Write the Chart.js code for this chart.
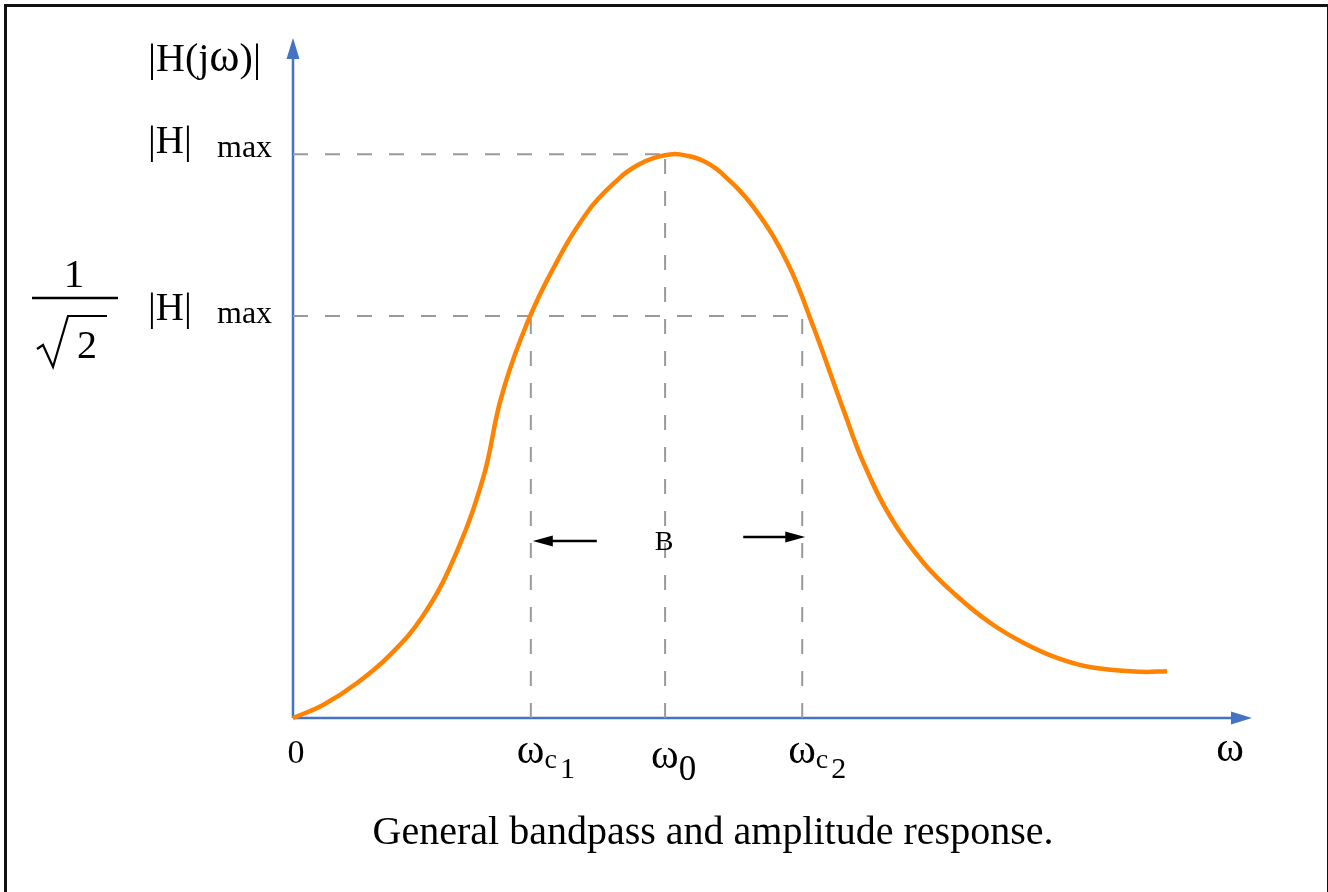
<!DOCTYPE html>
<html>
<head>
<meta charset="utf-8">
<script src="https://cdn.jsdelivr.net/npm/chart.js@4.4.1/dist/chart.umd.min.js"></script>
<style>
    html, body { margin: 0; padding: 0; background: #fff; overflow: hidden; }
    #frame {
        position: absolute; left: 4px; top: 4px; width: 1320px; height: 900px;
        border: 3px solid #111; border-bottom: none;
    }
    #chart { position: absolute; left: 0; top: 0; }
</style>
</head>
<body>
<div id="frame"></div>
<canvas id="chart" width="1328" height="892"></canvas>
<script>
// omega in arbitrary units (0..100), |H| normalised to |H|max = 1
const curveOmega = [0, 3.13, 6.68, 10.13, 13.47, 16.70, 19.83, 21.61, 23.70, 26.51, 30.69, 34.13, 35.86, 37.58, 39.56, 41.13,
    42.80, 44.57, 48.02, 51.57, 54.28, 57.41, 59.50, 62.32, 65.76, 69.31, 72.76, 76.20, 79.75, 83.19, 88.41, 91.13];
const curveGain = [0, 0.023, 0.062, 0.112, 0.179, 0.280, 0.426, 0.562, 0.670, 0.777, 0.897, 0.959, 0.980, 0.993, 1.0, 0.997,
    0.988, 0.968, 0.906, 0.807, 0.693, 0.546, 0.452, 0.356, 0.275, 0.215, 0.168, 0.133, 0.106, 0.090, 0.082, 0.083];

const omegaC1 = 24.8;
const omega0 = 38.8;
const omegaC2 = 53.1;
const hMax = 1.0;
const halfPower = 0.713;
const bandLevel = 0.314;

const xTickLabels = ["0", "ω"];
const caption = "General bandpass and amplitude response.";

const axisBlue = "#4472C4";
const curveOrange = "#FF8200";
const dashGrey = "#9a9a9a";
const serif = "'Liberation Serif', 'Times New Roman', serif";

function dashed(points) {
    return {
        data: points,
        borderColor: dashGrey,
        borderWidth: 2,
        borderDash: [15, 17],
        pointRadius: 0,
        tension: 0,
        clip: false
    };
}

const curveData = curveOmega.map((w, i) => ({ x: w, y: curveGain[i] }));

function arrowHead(ctx, tipX, tipY, dx, dy, len, half) {
    // dx, dy: unit direction the arrow points to
    const bx = tipX - dx * len, by = tipY - dy * len;
    ctx.beginPath();
    ctx.moveTo(tipX, tipY);
    ctx.lineTo(bx - dy * half, by + dx * half);
    ctx.lineTo(bx + dy * half, by - dx * half);
    ctx.closePath();
    ctx.fill();
}

function text(ctx, str, x, y, size, align) {
    ctx.font = size + "px " + serif;
    ctx.textAlign = align || "left";
    ctx.fillText(str, x, y);
    return ctx.measureText(str).width;
}

const axesPlugin = {
    id: "axes",
    beforeDatasetsDraw(chart) {
        const ctx = chart.ctx;
        const a = chart.chartArea;
        const x0 = chart.scales.x.getPixelForValue(0);
        const y0 = chart.scales.y.getPixelForValue(0);
        ctx.save();
        ctx.strokeStyle = axisBlue;
        ctx.fillStyle = axisBlue;
        ctx.lineWidth = 2.5;
        ctx.beginPath();
        ctx.moveTo(x0, y0);
        ctx.lineTo(x0, a.top + 12);
        ctx.moveTo(x0, y0);
        ctx.lineTo(a.right - 12, y0);
        ctx.stroke();
        arrowHead(ctx, x0, a.top, 0, -1, 21, 6.5);
        arrowHead(ctx, a.right, y0, 1, 0, 21, 6.5);
        ctx.restore();
    },
    afterDatasetsDraw(chart) {
        const ctx = chart.ctx;
        const xs = chart.scales.x, ys = chart.scales.y;
        const a = chart.chartArea;
        const y0 = ys.getPixelForValue(0);
        ctx.save();
        ctx.fillStyle = "#000";
        ctx.textBaseline = "alphabetic";

        // x tick labels
        const base = y0 + 45;
        text(ctx, xTickLabels[0], xs.getPixelForValue(0) + 3, base, 34, "center");
        text(ctx, xTickLabels[1], a.right - 22, base - 2, 42, "center");

        function omegaSub(px, dy, sub, subsub) {
            let x = px - 14;
            x += text(ctx, "ω", x, base + dy, 42);
            if (subsub) {
                x += text(ctx, sub, x, base + 5 + dy, 28);
                text(ctx, subsub, x + 3, base + 15 + dy, 30);
            } else {
                text(ctx, sub, x, base + 12 + dy, 35);
            }
        }
        omegaSub(xs.getPixelForValue(omegaC1), 0, "c", "1");
        omegaSub(xs.getPixelForValue(omega0), 5, "0");
        omegaSub(xs.getPixelForValue(omegaC2), 0, "c", "2");

        // y labels
        const left = 148;
        let tx = left;
        tx += text(ctx, "|H(j", tx, a.top + 33, 40);
        tx += text(ctx, "ω", tx, a.top + 33, 46);
        text(ctx, ")|", tx, a.top + 33, 40);
        const yMaxPx = ys.getPixelForValue(hMax);
        text(ctx, "|H|", left, yMaxPx - 1, 39);
        text(ctx, "max", 217, yMaxPx + 3, 32);
        const yHalf = ys.getPixelForValue(halfPower);
        text(ctx, "|H|", left, yHalf + 4, 39);
        text(ctx, "max", 217, yHalf + 7, 32);

        // 1 / sqrt(2)
        text(ctx, "1", 74, yHalf - 29, 41, "center");
        ctx.strokeStyle = "#000";
        ctx.lineWidth = 2.5;
        ctx.beginPath();
        ctx.moveTo(32, yHalf - 18);
        ctx.lineTo(118, yHalf - 18);
        ctx.stroke();
        ctx.lineWidth = 2.2;
        ctx.beginPath();
        ctx.moveTo(37, yHalf + 33);
        ctx.lineTo(43, yHalf + 29);
        ctx.lineTo(53, yHalf + 51);
        ctx.lineTo(68, yHalf);
        ctx.lineTo(107, yHalf);
        ctx.stroke();
        text(ctx, "2", 77, yHalf + 42, 40);

        // bandwidth B with arrows
        const c1 = xs.getPixelForValue(omegaC1), c2 = xs.getPixelForValue(omegaC2);
        const yb = ys.getPixelForValue(bandLevel);
        text(ctx, "B", xs.getPixelForValue(omega0) - 1, yb + 9, 28, "center");
        ctx.lineWidth = 2.5;
        ctx.beginPath();
        ctx.moveTo(c1 + 66, yb);
        ctx.lineTo(c1 + 12, yb);
        ctx.moveTo(c2 - 59, yb - 4);
        ctx.lineTo(c2 - 8, yb - 4);
        ctx.stroke();
        arrowHead(ctx, c1 + 2, yb, -1, 0, 20, 5.5);
        arrowHead(ctx, c2 + 3, yb - 4, 1, 0, 20, 5.5);

        // caption
        text(ctx, caption, 713, 844, 40, "center");
        ctx.restore();
    }
};

new Chart(document.getElementById("chart"), {
    type: "line",
    data: {
        datasets: [
            {
                data: curveData,
                borderColor: curveOrange,
                borderWidth: 4.5,
                pointRadius: 0,
                tension: 0.4,
                clip: false
            },
            dashed([{ x: 0, y: hMax }, { x: omega0, y: hMax }]),
            dashed([{ x: 0, y: halfPower }, { x: omegaC2, y: halfPower }]),
            dashed([{ x: omegaC1, y: 0 }, { x: omegaC1, y: halfPower }]),
            dashed([{ x: omega0, y: 0 }, { x: omega0, y: hMax }]),
            dashed([{ x: omegaC2, y: 0 }, { x: omegaC2, y: halfPower }])
        ]
    },
    options: {
        responsive: false,
        animation: false,
        layout: { padding: { left: 293, right: 76, top: 38, bottom: 174 } },
        plugins: { legend: { display: false }, tooltip: { enabled: false } },
        scales: {
            x: { type: "linear", min: 0, max: 100, display: false },
            y: { min: 0, max: 1.206, display: false }
        }
    },
    plugins: [axesPlugin]
});
</script>
</body>
</html>
